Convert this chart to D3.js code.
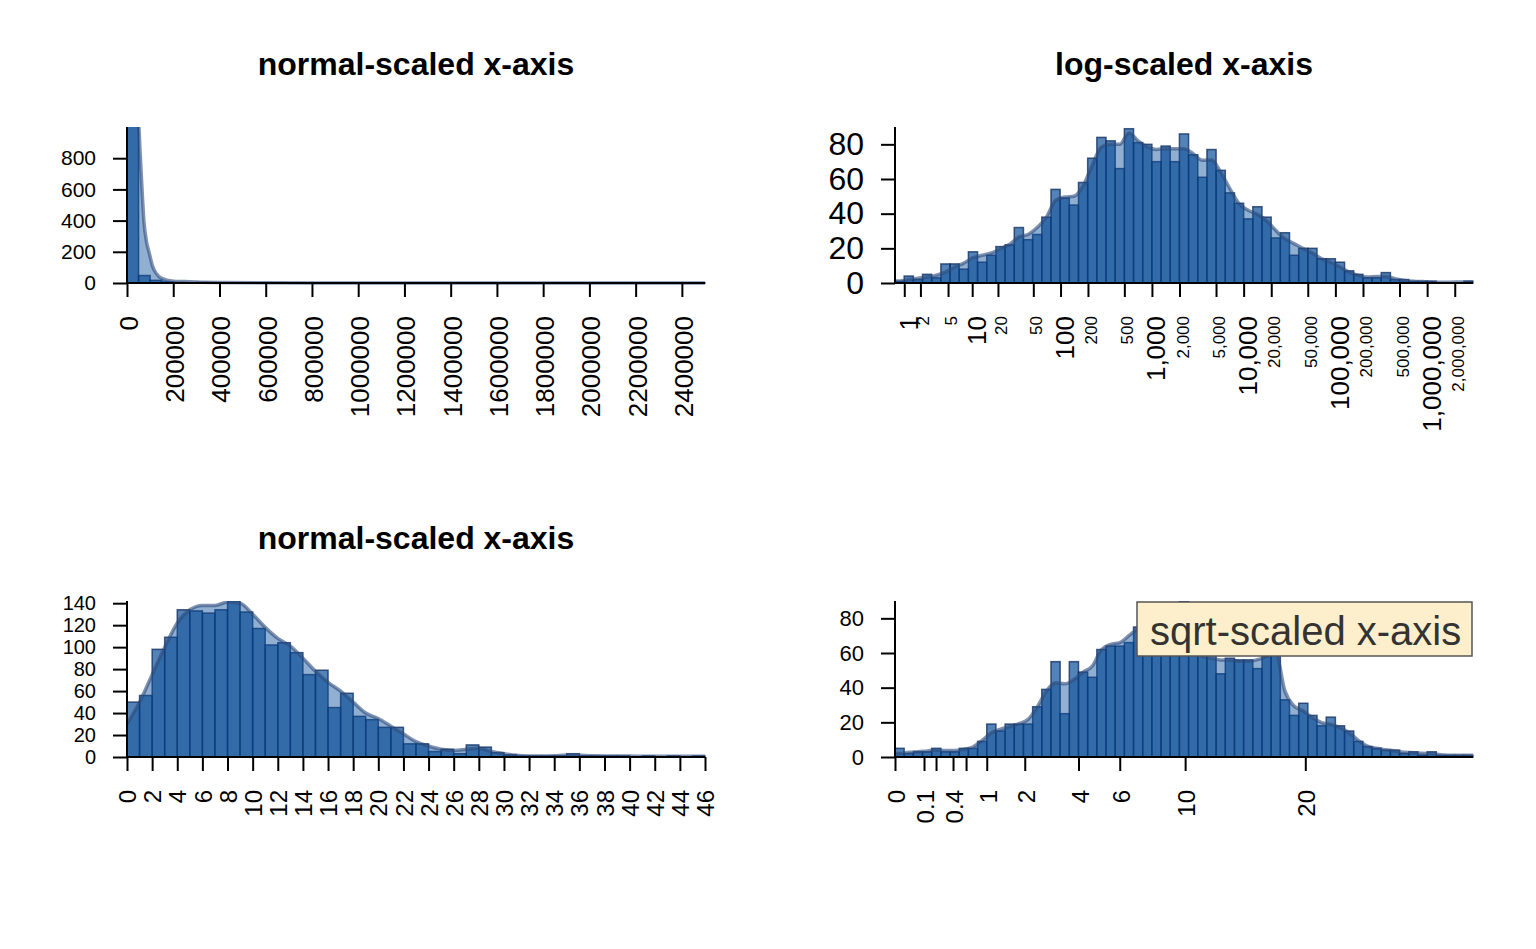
<!DOCTYPE html>
<html lang="en">
<head>
<meta charset="UTF-8" />
<title>Histograms with differently scaled x-axes</title>
<script src="https://cdnjs.cloudflare.com/ajax/libs/d3/7.8.5/d3.min.js"></script>
<style>
  * { margin: 0; padding: 0; }
  body { background: #fff; }
  svg { display: block; font-family: 'Liberation Sans', Arial, Helvetica, sans-serif; }
</style>
</head>
<body>
<svg id="chart" width="1536" height="949"></svg>
<script>
// ---------- data ----------

// top-left: raw values, bins of 50,000
const rawBinWidth = 50000;
const rawCounts = [1907, 48, 17, 7, 3, 2, 4, 3, 1, 1, 1, 1, 1, 1, 0, 0, 1, 0, 1, 0,
                   1, 0, 0, 0, 0, 0, 0, 0, 0, 0, 0, 0, 0, 0, 0, 0, 0, 0, 0, 0,
                   0, 0, 0, 0, 0, 0, 0, 0, 0, 1];
const rawDensX = [0, 10000, 25000, 40000, 50000, 58000, 65000, 73000, 85000, 95000,
                  110000, 127000, 150000, 200000, 250000, 300000, 400000, 600000, 1000000, 2500000];
const rawDensY = [1500, 2400, 2200, 1500, 1050, 800, 600, 400, 260, 200,
                  110, 60, 30, 12, 9, 6, 3, 1, 0.3, 0];
const rawTicks = [0, 200000, 400000, 600000, 800000, 1000000, 1200000, 1400000,
                  1600000, 1800000, 2000000, 2200000, 2400000];
const rawYTicks = [0, 200, 400, 600, 800];

// top-right: log10(x+1) bins of width 0.1 starting at 0.2
const logFirstEdge = 0.2, logBinWidth = 0.1;
const logCounts = [1, 4, 2, 5, 3, 11, 11, 8, 18, 12,
                   16, 21, 22, 32, 25, 28, 38, 54, 49, 45,
                   58, 72, 84, 82, 66, 89, 81, 80, 70, 79,
                   70, 86, 74, 61, 77, 65, 52, 46, 37, 44,
                   38, 26, 29, 16, 20, 20, 14, 14, 12, 7,
                   5, 3, 3, 6, 2, 2, 1, 1, 1, 0,
                   0, 0, 1];
const logDensity = [1.2, 2, 2.7, 3.5, 4.5, 6.3, 9.2, 11.5, 14.6, 16,
                    17.3, 19.8, 22.3, 26.5, 28, 32, 38, 47.7, 49.6, 50,
                    56, 68, 78.5, 80, 80, 86.5, 82, 78.5, 77, 77.5,
                    77.5, 77.5, 74.6, 70.8, 71, 64, 54.4, 45.8, 42, 39.6,
                    36, 30.4, 25.6, 22.7, 19.8, 17.3, 14, 12, 9.2, 6.3,
                    4.4, 3.5, 3.8, 3.8, 2.5, 1.5, 1, 0.8, 0.6, 0.5,
                    0.5, 0.6, 0.7];
const logTicks = [1, 2, 5, 10, 20, 50, 100, 200, 500, 1000, 2000, 5000, 10000, 20000,
                  50000, 100000, 200000, 500000, 1000000, 2000000];
const logYTicks = [0, 20, 40, 60, 80];

// bottom-left: bins of width 1 from 0 to 46
const normCounts = [50, 56, 98, 109, 134, 133, 131, 134, 142, 132,
                    117, 102, 104, 95, 75, 79, 45, 58, 37, 34,
                    27, 27, 12, 12, 5, 7, 3, 11, 9, 4,
                    2, 1, 1, 1, 1, 3, 1, 1, 1, 1,
                    0, 1, 0, 1, 0, 1];
// density at x = 0, 1, 2, ... 46
const normDensity = [30, 50, 75, 100, 122, 134, 138, 138, 141, 140,
                     130, 118, 108, 101, 90, 78, 68, 60, 50, 40,
                     35, 28, 21, 14, 10, 7, 6, 7, 8, 5,
                     3, 1.5, 1, 1, 1.2, 1.8, 1.6, 1.1, 1, 1,
                     0.8, 0.7, 0.7, 0.6, 0.6, 0.6, 0.6];
const normTicks = d3.range(0, 47, 2);
const normYTicks = [0, 20, 40, 60, 80, 100, 120, 140];

// bottom-right: sqrt(x) bins of width 0.1 starting at 0
const sqrtBinWidth = 0.1;
const sqrtCounts = [5, 2, 3, 3, 5, 3, 3, 5, 5, 9,
                    19, 15, 19, 19, 19, 29, 39, 55, 25, 55,
                    49, 46, 62, 64, 64, 66, 75, 72, 80, 78,
                    85, 90, 82, 70, 65, 48, 57, 56, 56, 51,
                    58, 62, 33, 24, 31, 24, 18, 23, 18, 15,
                    9, 6, 5, 4, 4, 2, 3, 1, 3, 1,
                    1, 1, 1];
const sqrtDensity = [2, 2.7, 3, 3.5, 4, 3.8, 3.8, 4.4, 5.8, 9.6,
                     14, 16, 17.5, 19.2, 21.7, 28.8, 38, 42.8, 42.2, 44.7,
                     49, 52.4, 62, 65, 66, 70, 74, 76, 78, 78,
                     76, 70, 64, 58, 57, 56, 56, 55.3, 55.3, 56.2,
                     58, 60, 38, 29.4, 26.5, 22.6, 19.8, 18.8, 17, 14,
                     9.6, 6.3, 5, 4.2, 3.5, 2.7, 2.5, 2.1, 1.9, 1.3,
                     1, 1, 1];
const sqrtTicks = [0, 0.1, 0.2, 0.4, 0.6, 1, 2, 4, 6, 10, 20];
const sqrtTickLabels = ["0", "0.1", "", "0.4", "", "1", "2", "4", "6", "10", "20"];
const sqrtYTicks = [0, 20, 40, 60, 80];

// ---------- layout ----------
const plotW = 578, plotH = 156;
const colL = 127, colR = 895, rowT = 127, rowB = 601;
const mainColor = "#0b4e99";
const svg = d3.select("#chart");
svg.append("rect").attr("width", 1536).attr("height", 949).attr("fill", "#fff");

function drawPanel(p) {
  const left = p.x.range()[0];
  const y = d3.scaleLinear().domain([0, p.yMax]).range([p.top + plotH, p.top]);
  const g = svg.append("g");

  g.append("clipPath").attr("id", p.id)
    .append("rect")
    .attr("x", left - 1).attr("y", p.top)
    .attr("width", plotW + 2).attr("height", plotH + 3);

  const plot = g.append("g").attr("clip-path", `url(#${p.id})`);

  // bars
  plot.selectAll("rect.bar")
    .data(p.bins)
    .join("rect")
    .attr("class", "bar")
    .attr("x", d => p.x(d.x0))
    .attr("width", d => p.x(d.x1) - p.x(d.x0))
    .attr("y", d => y(d.n))
    .attr("height", d => y(0) - y(d.n))
    .attr("fill", mainColor)
    .attr("fill-opacity", 0.7)
    .attr("stroke", "#0a2a5c")
    .attr("stroke-opacity", 0.75)
    .attr("stroke-width", 1.5);

  // density
  const area = d3.area()
    .x(d => p.x(d.x)).y0(y(0)).y1(d => y(d.y))
    .curve(d3.curveMonotoneX);
  const line = d3.line()
    .x(d => p.x(d.x)).y(d => y(d.y))
    .curve(d3.curveMonotoneX);
  plot.append("path").datum(p.dens)
    .attr("d", area)
    .attr("fill", mainColor)
    .attr("fill-opacity", 0.45);
  plot.append("path").datum(p.dens)
    .attr("d", line)
    .attr("fill", "none")
    .attr("stroke", "#2b4a7a")
    .attr("stroke-opacity", 0.6)
    .attr("stroke-width", 3.5);

  // x axis
  const xa = g.append("g").attr("transform", `translate(0,${p.top + plotH})`)
    .call(d3.axisBottom(p.x).tickValues(p.xTicks).tickSize(14).tickSizeOuter(0)
      .tickFormat((d, i) => p.xLabel(d, i)));
  xa.select(".domain").remove();
  xa.selectAll(".tick line").attr("stroke", "#000").attr("stroke-width", 2);
  xa.selectAll(".tick text")
    .attr("transform", "rotate(-90)")
    .attr("text-anchor", "end")
    .attr("x", -33).attr("y", 0).attr("dy", p.xDy)
    .attr("fill", "#000")
    .style("font-size", (d, i) => p.xFont(d, i) + "px");
  g.append("line")
    .attr("x1", left).attr("x2", left + plotW)
    .attr("y1", y(0)).attr("y2", y(0))
    .attr("stroke", "#000").attr("stroke-width", 2);

  // y axis
  const ya = g.append("g").attr("transform", `translate(${left},0)`)
    .call(d3.axisLeft(y).tickValues(p.yTicks).tickSize(14).tickPadding(17).tickSizeOuter(0));
  ya.select(".domain").remove();
  ya.selectAll(".tick line").attr("stroke", "#000").attr("stroke-width", 2);
  ya.selectAll(".tick text").attr("fill", "#000").style("font-size", p.yFont + "px");
  g.append("line")
    .attr("x1", left).attr("x2", left)
    .attr("y1", y(0) + 1).attr("y2", p.top)
    .attr("stroke", "#000").attr("stroke-width", 2);

  if (p.title) {
    g.append("text")
      .attr("x", left + plotW / 2).attr("y", p.top - 52)
      .attr("text-anchor", "middle")
      .attr("font-weight", "bold")
      .style("font-size", "32px")
      .text(p.title);
  }
}

// panel 1: normal scale, raw values
const xRaw = d3.scaleLinear().domain([0, 2500000]).range([colL, colL + plotW]);
drawPanel({
  id: "clipRaw", x: xRaw, top: rowT, yMax: 1000,
  bins: rawCounts.map((n, i) => ({ x0: i * rawBinWidth, x1: (i + 1) * rawBinWidth, n })),
  dens: rawDensX.map((x, i) => ({ x, y: rawDensY[i] })),
  xTicks: rawTicks, xLabel: d => String(d), xFont: () => 26, xDy: "0.4em",
  yTicks: rawYTicks, yFont: 21,
  title: "normal-scaled x-axis"
});

// panel 2: log scale (log of x+1)
const logEdge = i => Math.pow(10, logFirstEdge + i * logBinWidth) - 1;
const xLog = d3.scaleSymlog().constant(1)
  .domain([logEdge(0), logEdge(logCounts.length)])
  .range([colR, colR + plotW]);
const logDens = logDensity.map((v, i) => ({ x: Math.pow(10, logFirstEdge + (i + 0.5) * logBinWidth) - 1, y: v }));
logDens.unshift({ x: logEdge(0), y: logDensity[0] });
logDens.push({ x: logEdge(logCounts.length), y: logDensity[logDensity.length - 1] });
const isDecade = d => Number.isInteger(Math.log10(d));
drawPanel({
  id: "clipLog", x: xLog, top: rowT, yMax: 90,
  bins: logCounts.map((n, i) => ({ x0: logEdge(i), x1: logEdge(i + 1), n })),
  dens: logDens,
  xTicks: logTicks, xLabel: d => d3.format(",")(d), xFont: d => isDecade(d) ? 26 : 17, xDy: "0.5em",
  yTicks: logYTicks, yFont: 32,
  title: "log-scaled x-axis"
});

// panel 3: normal scale
const xNorm = d3.scaleLinear().domain([0, normCounts.length]).range([colL, colL + plotW]);
drawPanel({
  id: "clipNorm", x: xNorm, top: rowB, yMax: 142,
  bins: normCounts.map((n, i) => ({ x0: i, x1: i + 1, n })),
  dens: normDensity.map((v, i) => ({ x: i, y: v })),
  xTicks: normTicks, xLabel: d => String(d), xFont: () => 24, xDy: "0.36em",
  yTicks: normYTicks, yFont: 20,
  title: "normal-scaled x-axis"
});

// panel 4: sqrt scale
const sqrtEdge = i => Math.pow(i * sqrtBinWidth, 2);
const xSqrt = d3.scaleSqrt().domain([0, sqrtEdge(sqrtCounts.length)]).range([colR, colR + plotW]);
const sqrtDens = sqrtDensity.map((v, i) => ({ x: Math.pow((i + 0.5) * sqrtBinWidth, 2), y: v }));
sqrtDens.unshift({ x: 0, y: sqrtDensity[0] });
sqrtDens.push({ x: sqrtEdge(sqrtCounts.length), y: sqrtDensity[sqrtDensity.length - 1] });
drawPanel({
  id: "clipSqrt", x: xSqrt, top: rowB, yMax: 90,
  bins: sqrtCounts.map((n, i) => ({ x0: sqrtEdge(i), x1: sqrtEdge(i + 1), n })),
  dens: sqrtDens,
  xTicks: sqrtTicks, xLabel: (d, i) => sqrtTickLabels[i], xFont: () => 24, xDy: "0.4em",
  yTicks: sqrtYTicks, yFont: 22,
  title: null
});

// legend box used as the title of the sqrt panel
const lg = svg.append("g");
lg.append("rect")
  .attr("x", 1137).attr("y", 602).attr("width", 335).attr("height", 54)
  .attr("fill", "#fdefcb").attr("stroke", "#555").attr("stroke-width", 1.5);
lg.append("text")
  .attr("x", 1150).attr("y", 645)
  .attr("fill", "#333")
  .style("font-size", "40px")
  .text("sqrt-scaled x-axis");
</script>
</body>
</html>
